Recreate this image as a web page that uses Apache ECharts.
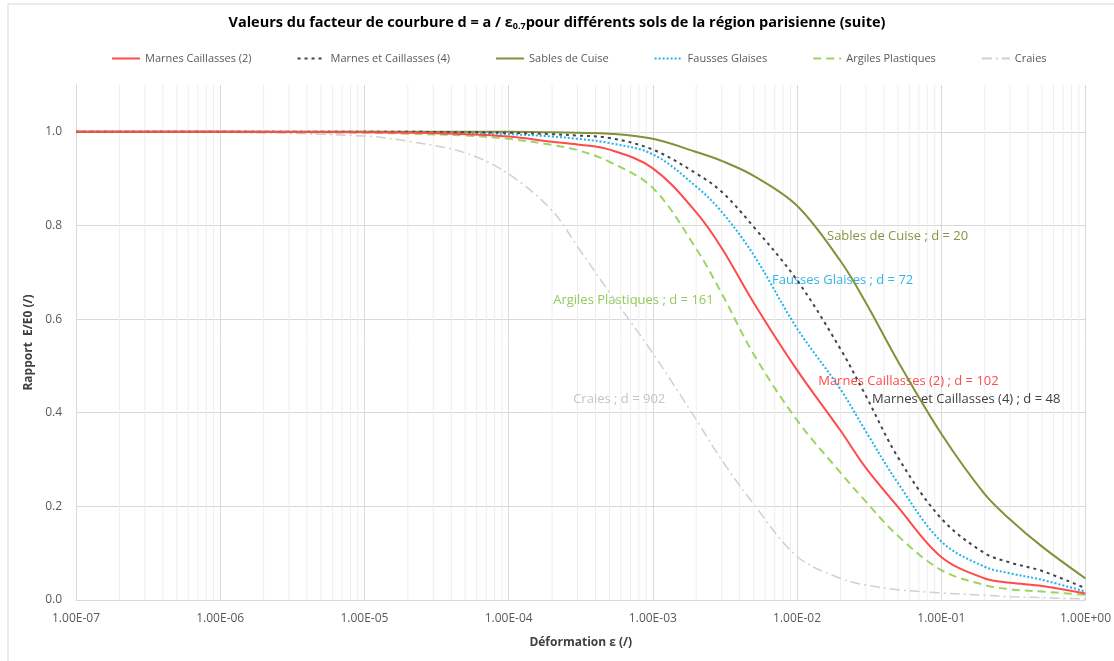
<!DOCTYPE html>
<html>
<head>
<meta charset="utf-8">
<script src="https://cdn.jsdelivr.net/npm/echarts@6/dist/echarts.min.js"></script>
<style>
  html, body { margin: 0; padding: 0; background: #fff; }
  #chart { width: 1114px; height: 661px; }
</style>
</head>
<body>
<div id="chart"></div>
<script>
// déformation ε (/)
const strain = [1e-7, 1e-6, 1e-5, 2e-5, 5e-5, 1e-4, 2e-4, 3e-4, 5e-4, 1e-3, 2e-3, 3e-3, 5e-3,
  1e-2, 2e-2, 3e-2, 5e-2, 1e-1, 2e-1, 3e-1, 5e-1, 1]

// rapport E/E0 (/) par sol
const marnesCaillasses2 = [1.0, 1.0, 0.999, 0.998, 0.995, 0.99, 0.979, 0.973, 0.962, 0.922, 0.828, 0.752, 0.635,
  0.491, 0.362, 0.282, 0.199, 0.092, 0.046, 0.037, 0.03, 0.014]
const marnesEtCaillasses4 = [1.0, 1.0, 1.0, 1.0, 0.999, 0.998, 0.995, 0.992, 0.987, 0.962, 0.911, 0.872, 0.797,
  0.683, 0.536, 0.436, 0.305, 0.174, 0.1, 0.08, 0.062, 0.025]
const sablesDeCuise = [1.0, 1.0, 1.0, 1.0, 1.0, 1.0, 0.999, 0.998, 0.996, 0.985, 0.957, 0.938, 0.906,
  0.842, 0.724, 0.635, 0.51, 0.355, 0.226, 0.172, 0.114, 0.046]
const faussesGlaises = [1.0, 1.0, 1.0, 0.999, 0.997, 0.995, 0.99, 0.985, 0.976, 0.952, 0.883, 0.829, 0.737,
  0.58, 0.45, 0.36, 0.25, 0.125, 0.071, 0.057, 0.043, 0.018]
const argilesPlastiques = [1.0, 1.0, 0.998, 0.996, 0.992, 0.985, 0.972, 0.961, 0.936, 0.88, 0.75, 0.655, 0.525,
  0.384, 0.272, 0.21, 0.137, 0.064, 0.032, 0.023, 0.018, 0.011]
const craies = [1.0, 0.999, 0.991, 0.98, 0.955, 0.91, 0.832, 0.755, 0.657, 0.527, 0.385, 0.299, 0.205,
  0.093, 0.046, 0.032, 0.022, 0.015, 0.01, 0.007, 0.005, 0.002]

const seriesNames = ['Marnes Caillasses (2)', 'Marnes et Caillasses (4)', 'Sables de Cuise',
  'Fausses Glaises', 'Argiles Plastiques', 'Craies']

// étiquettes "d = ..." : [ε, E/E0] du coin gauche du texte
const curveLabels = [
  { text: 'Marnes Caillasses (2) ; d = 102', at: [1.39e-2, 0.468] },
  { text: 'Marnes et Caillasses (4) ; d = 48', at: [3.28e-2, 0.429] },
  { text: 'Sables de Cuise ; d = 20', at: [1.6e-2, 0.777] },
  { text: 'Fausses Glaises ; d = 72', at: [6.65e-3, 0.682] },
  { text: 'Argiles Plastiques ; d = 161', at: [2.02e-4, 0.641] },
  { text: 'Craies ; d = 902', at: [2.78e-4, 0.429] }
]

const FONT = "'Open Sans', sans-serif"

const styles = [
  { color: '#FF4B4B', type: 'solid', width: 2, text: '#FF4B4B' },
  { color: '#3E4450', type: [3, 4], width: 2, text: '#404040' },
  { color: '#84903A', type: 'solid', width: 2, text: '#8A9444' },
  { color: '#22B2EE', type: [2, 2], width: 2, text: '#33B5E8' },
  { color: '#9BD564', type: [8, 5], width: 2, text: '#92CC5A' },
  { color: '#D0D0D0', type: [10, 4, 2, 4], width: 1.5, text: '#C4C4C4' }
]

const allValues = [marnesCaillasses2, marnesEtCaillasses4, sablesDeCuise, faussesGlaises, argilesPlastiques, craies]

// lignes de grille secondaires (2..9 dans chaque décade)
const minorTicks = []
for (let k = -7; k < 0; k++) {
  for (let m = 2; m <= 9; m++) minorTicks.push(m * Math.pow(10, k))
}

const fmtExp = (v) => {
  const e = Math.round(Math.log10(v))
  return '1.00E' + (e < 0 ? '-' : '+') + String(Math.abs(e)).padStart(2, '0')
}

const chart = echarts.init(document.getElementById('chart'))

const series = [{
  name: 'minorGrid',
  type: 'custom',
  silent: true,
  z: 0,
  data: minorTicks,
  renderItem: (params, api) => {
    const v = api.value(0)
    const p0 = api.coord([v, 0])
    const p1 = api.coord([v, 1.1])
    return {
      type: 'line',
      shape: { x1: p0[0], y1: p0[1], x2: p1[0], y2: p1[1] },
      style: { stroke: '#EEEEEE', lineWidth: 1 }
    }
  }
}]

seriesNames.forEach((name, i) => {
  const s = styles[i]
  const lbl = curveLabels[i]
  series.push({
    name: name,
    type: 'line',
    z: 10 - i,
    showSymbol: false,
    symbol: 'none',
    smooth: 0.35,
    lineStyle: { color: s.color, type: s.type, width: s.width },
    itemStyle: { color: s.color },
    data: strain.map((x, j) => [x, allValues[i][j]]),
    markPoint: {
      symbol: 'circle',
      symbolSize: 1,
      itemStyle: { color: 'rgba(0,0,0,0)' },
      silent: true,
      label: {
        show: true,
        position: 'right',
        distance: 0,
        formatter: lbl.text,
        color: s.text,
        fontFamily: FONT,
        fontSize: 13
      },
      data: [{ coord: lbl.at }]
    }
  })
})

const option = {
  animation: false,
  textStyle: { fontFamily: FONT },
  title: {
    text: 'Valeurs du facteur de courbure d = a / ε{sub|0.7}pour différents sols de la région parisienne (suite)',
    left: 'center',
    top: 9,
    textStyle: {
      fontFamily: FONT,
      fontSize: 14.5,
      fontWeight: 'bold',
      color: '#000',
      rich: {
        sub: { fontSize: 9, fontWeight: 'bold', verticalAlign: 'bottom', padding: [8, 0, 0, 0], fontFamily: FONT }
      }
    }
  },
  legend: {
    data: seriesNames,
    top: 48,
    left: 106,
    itemWidth: 28,
    itemHeight: 10,
    itemGap: 45,
    itemStyle: { opacity: 0 },
    textStyle: { fontFamily: FONT, fontSize: 11, color: '#595959' }
  },
  grid: { left: 76, right: 28, top: 85, bottom: 61, containLabel: false },
  graphic: [{
    type: 'rect',
    silent: true,
    shape: { x: 8, y: 4, width: 1130, height: 700 },
    style: { fill: 'none', stroke: '#D9D9D9', lineWidth: 1 }
  }],
  xAxis: {
    type: 'log',
    logBase: 10,
    min: 1e-7,
    max: 1,
    name: 'Déformation ε (/)',
    nameLocation: 'middle',
    nameGap: 37,
    nameTextStyle: { fontFamily: FONT, fontSize: 12, fontWeight: 'bold', color: '#404040' },
    axisLine: { show: true, lineStyle: { color: '#D9D9D9' } },
    axisTick: { show: false },
    axisLabel: { formatter: fmtExp, color: '#595959', fontSize: 12, margin: 13, fontFamily: FONT },
    splitLine: { show: true, lineStyle: { color: '#D9D9D9' } }
  },
  yAxis: {
    type: 'value',
    min: 0,
    max: 1.1,
    interval: 0.2,
    name: 'Rapport  E/E0 (/)',
    nameLocation: 'middle',
    nameGap: 34,
    nameTextStyle: { fontFamily: FONT, fontSize: 12, fontWeight: 'bold', color: '#404040' },
    axisLine: { show: true, lineStyle: { color: '#D9D9D9' } },
    axisTick: { show: false },
    axisLabel: {
      color: '#595959',
      fontSize: 12,
      margin: 14,
      fontFamily: FONT,
      formatter: (v) => (v > 1.05 ? '' : v.toFixed(1))
    },
    splitLine: { show: true, showMaxLine: false, lineStyle: { color: '#D9D9D9' } }
  },
  series: series
}

chart.setOption(option)
</script>
</body>
</html>
